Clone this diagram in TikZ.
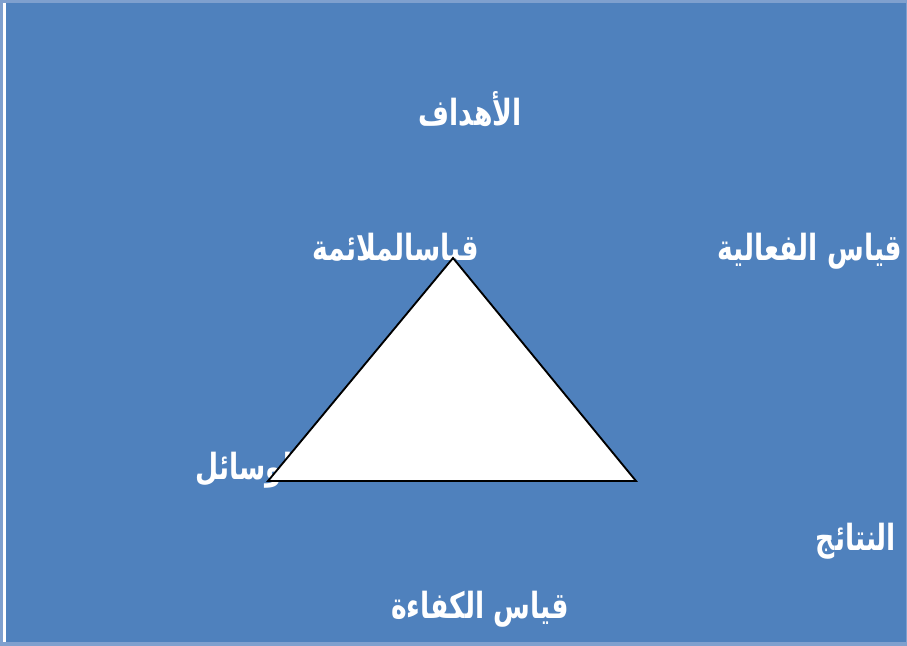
\documentclass[tikz,border=0pt]{standalone}
\usepackage{fontspec}
\TeXXeTstate=1
\newfontfamily\arabicfont[Script=Arabic]{DejaVu Sans}
\definecolor{bgblue}{HTML}{4F81BD}
\definecolor{frameblue}{HTML}{7FA0CE}
\newcommand{\artxt}[1]{\scalebox{1}[1.35]{\beginR #1\endR}}
\tikzset{
  lbl/.style={text=white, font=\arabicfont\bfseries\fontsize{20pt}{24pt}\selectfont, inner sep=0pt},
  tri/.style={draw=black, fill=white, line width=1.4pt, line join=miter}
}
\begin{document}
\begin{tikzpicture}[x=0.75pt,y=-0.75pt]
\useasboundingbox (0,0) rectangle (907,646);
\fill[frameblue] (0,0) rectangle (907,646);
\fill[white] (3,3) rectangle (906,642);
\fill[bgblue] (6,3) rectangle (906,642);
\node[lbl] (goals) at (470,109) {\artxt{الأهداف}};
\node[lbl] (fit) at (396,250) {\artxt{قياسالملائمة}};
\node[lbl] (eff) at (810,251) {\artxt{قياس الفعالية}};
\node[lbl, anchor=west] (means) at (195,470) {\artxt{الوسائل}};
\node[lbl] (res) at (856,541) {\artxt{النتائج}};
\node[lbl] (effi) at (480,609) {\artxt{قياس الكفاءة}};
\coordinate (apex) at (453,258);
\coordinate (bl) at (268,481);
\coordinate (br) at (636,481);
\draw[tri] (apex) -- (bl) -- (br) -- cycle;
\end{tikzpicture}
\end{document}
